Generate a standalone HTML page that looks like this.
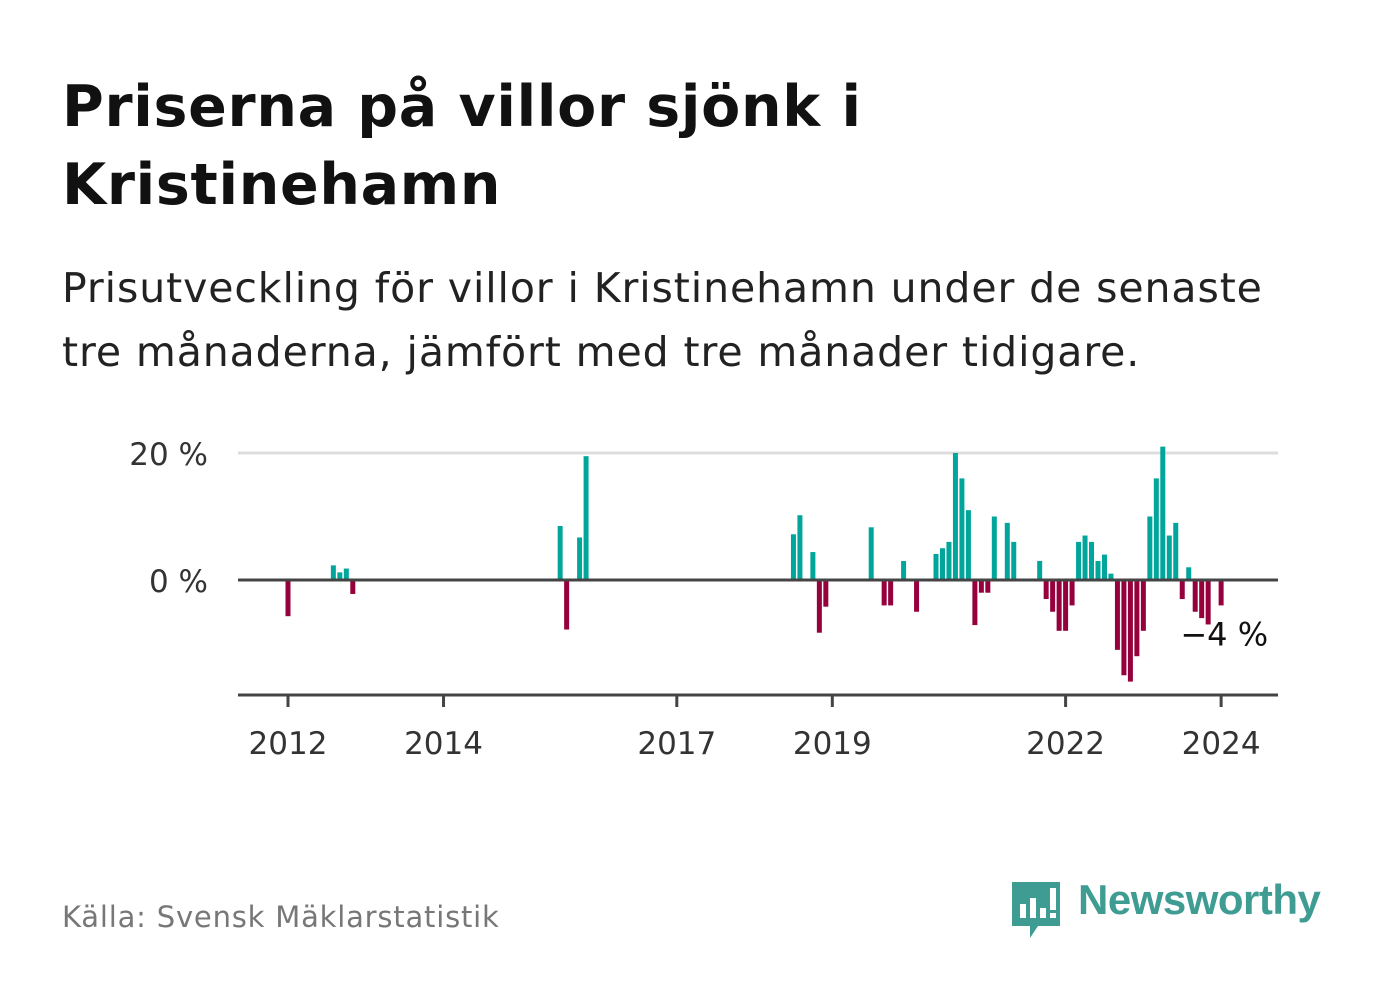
<!DOCTYPE html>
<html><head><meta charset="utf-8"><style>
body{margin:0;background:#fff;font-family:"Liberation Sans","DejaVu Sans",sans-serif;}
#root{position:relative;width:1382px;height:999px;overflow:hidden;}
.t{position:absolute;left:62px;color:#111;}
</style></head><body>
<div id="root">
<div class="t" style="top:68px;font-size:57px;font-weight:bold;line-height:78px;font-family:'DejaVu Sans',sans-serif;letter-spacing:0.7px">Priserna på villor sjönk i<br>Kristinehamn</div>
<div class="t" style="top:256px;font-size:41px;line-height:64px;color:#222;font-family:'DejaVu Sans',sans-serif;letter-spacing:0.9px">Prisutveckling för villor i Kristinehamn under de senaste<br>tre månaderna, jämfört med tre månader tidigare.</div>
<svg id="chart" width="1382" height="800" style="position:absolute;left:0;top:0"></svg>
<div class="t" style="top:900px;font-size:29px;color:#777;font-family:'DejaVu Sans',sans-serif;letter-spacing:0.8px">Källa: Svensk Mäklarstatistik</div>
<div style="position:absolute;left:1012px;top:880px;">
<svg width="50" height="60"><path d="M0 2h48v44H26l-8 12v-12H0z" fill="#3f9c93"/><rect x="8" y="24" width="6" height="14" fill="#fff"/><rect x="18" y="18" width="6" height="20" fill="#fff"/><rect x="28" y="28" width="6" height="10" fill="#fff"/><rect x="38" y="8" width="6" height="22" fill="#fff"/><rect x="38" y="33" width="6" height="5" fill="#fff"/></svg>
<span style="position:absolute;left:66px;top:-4px;font-size:42px;font-weight:bold;color:#3f9c93;white-space:nowrap;letter-spacing:-0.5px">Newsworthy</span>
</div>
</div>
<script>
const months=[0,7,8,9,10,42,43,45,46,78,79,81,82,83,90,92,93,95,97,100,101,102,103,104,105,106,107,108,109,111,112,116,117,118,119,120,121,122,123,124,125,126,127,128,129,130,131,132,133,134,135,136,137,138,139,140,141,142,144];
const values=[-5.7,2.3,1.2,1.8,-2.2,8.5,-7.8,6.7,19.5,7.2,10.2,4.4,-8.3,-4.2,8.3,-4,-4,3,-5,4.1,5,6,20,16,11,-7.1,-2,-2,10,9,6,3,-3,-5,-8,-8,-4,6,7,6,3,4,1,-11,-15,-16,-12,-8,10,16,21,7,9,-3,2,-5,-6,-7,-4];
const yTicks=[0,20];
const yTickLabels=["0 %","20 %"];
const xYears=[2012,2014,2017,2019,2022,2024];
const lastLabel="−4 %";
const NS="http://www.w3.org/2000/svg";
const svg=document.getElementById('chart');
const x0=288,pm=6.48,zeroY=580,pp=6.35;
function xs(m){return x0+m*pm;}
function ys(v){return zeroY-v*pp;}
function mk(t,a){const e=document.createElementNS(NS,t);for(const k in a)e.setAttribute(k,a[k]);svg.appendChild(e);return e;}
yTicks.forEach((v,i)=>{
 if(v!==0){const g=mk('line',{x1:238,x2:1278,y1:ys(v),y2:ys(v),stroke:'#ddd','stroke-width':3});
 
 }
 const t=mk('text',{x:208,y:ys(v)+12,'text-anchor':'end','font-size':31,fill:'#333','font-family':'DejaVu Sans, sans-serif'});
 t.textContent=yTickLabels[i];
 
 
});
months.forEach((m,i)=>{
 const v=values[i];const y=ys(v);
 const r=mk('rect',{x:xs(m)-2.5,width:5,y:Math.min(y,zeroY),height:Math.abs(zeroY-y),fill:v>=0?'#00a59b':'#96003c'});
 
 
});
const z=mk('line',{x1:238,x2:1278,y1:zeroY,y2:zeroY,stroke:'#444','stroke-width':3});


const ax=mk('line',{x1:238,x2:1278,y1:695,y2:695,stroke:'#444','stroke-width':3});


xYears.forEach(yr=>{
 const x=xs((yr-2012)*12);
 const tk=mk('line',{x1:x,x2:x,y1:695,y2:707,stroke:'#444','stroke-width':3});
 
 
 const t=mk('text',{x:x,y:754,'text-anchor':'middle','font-size':31,fill:'#333','font-family':'DejaVu Sans, sans-serif'});
 t.textContent=yr;
 
 
});
const lm=months[months.length-1],lv=values[values.length-1];
const lt=mk('text',{x:xs(lm)+47,y:ys(lv)+40,'text-anchor':'end','font-size':32,fill:'#111','font-family':'DejaVu Sans, sans-serif',stroke:'#fff','stroke-width':6,'paint-order':'stroke'});
lt.textContent=lastLabel;


</script>
</body></html>
